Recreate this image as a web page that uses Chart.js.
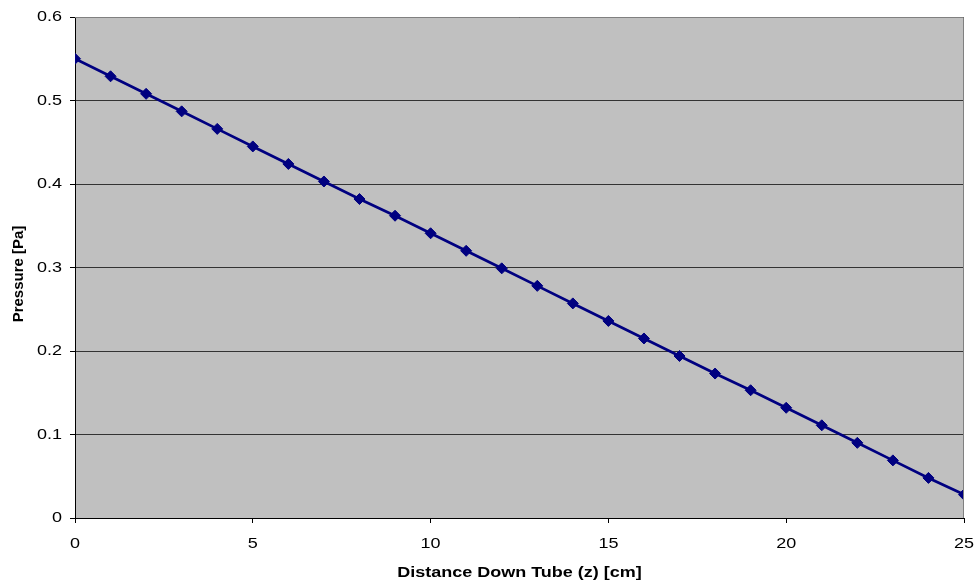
<!DOCTYPE html>
<html>
<head>
<meta charset="utf-8">
<script src="https://cdn.jsdelivr.net/npm/chart.js@4/dist/chart.umd.min.js"></script>
<style>
  html, body { margin: 0; padding: 0; background: #ffffff; }
  #wrap { width: 976px; height: 585px; }
</style>
</head>
<body>
<div id="wrap"><canvas id="c" width="976" height="585"></canvas></div>
<script>
// Distance down the tube (cm) and the pressure measured there (Pa)
const distances = [0,1,2,3,4,5,6,7,8,9,10,11,12,13,14,15,16,17,18,19,20,21,22,23,24,25];
const pressures = [0.550,0.529,0.508,0.487,0.466,0.445,0.424,0.403,0.382,0.362,0.341,0.320,0.299,0.278,0.257,0.236,0.215,0.194,0.173,0.153,0.132,0.111,0.090,0.069,0.048,0.028];
const xTickLabels = ['0', '5', '10', '15', '20', '25'];
const yTickLabels = ['0', '0.1', '0.2', '0.3', '0.4', '0.5', '0.6'];
const xTitle = 'Distance Down Tube (z) [cm]';
const yTitle = 'Pressure [Pa]';

const points = distances.map((z, i) => ({ x: z, y: pressures[i] }));

const FONT = '"Liberation Sans", Arial, sans-serif';
const WIDEN = 1.2;   // horizontal labels are set slightly wide

// Grey plot background with a thin grey frame on the top and right
const plotBackground = {
  id: 'plotBackground',
  beforeDraw(chart) {
    const { ctx, chartArea: a } = chart;
    ctx.save();
    ctx.fillStyle = '#c0c0c0';
    ctx.fillRect(a.left, a.top, a.right - a.left, a.bottom - a.top);
    ctx.restore();
  },
  afterDatasetsDraw(chart) {
    const { ctx, chartArea: a } = chart;
    ctx.save();
    ctx.strokeStyle = '#808080';
    ctx.lineWidth = 1;
    ctx.beginPath();
    ctx.moveTo(a.left, a.top + 0.5);
    ctx.lineTo(a.right - 0.5, a.top + 0.5);
    ctx.lineTo(a.right - 0.5, a.bottom);
    ctx.stroke();
    ctx.restore();
  }
};

// Draws a string horizontally widened around its anchor point
function wideText(ctx, text, x, y, align) {
  ctx.save();
  ctx.translate(x, y);
  ctx.scale(WIDEN, 1);
  ctx.textAlign = align;
  ctx.fillText(text, 0, 0);
  ctx.restore();
}

// Tick labels and axis titles
const axisText = {
  id: 'axisText',
  afterDraw(chart) {
    const { ctx, chartArea: a, scales } = chart;
    ctx.save();
    ctx.fillStyle = '#000000';
    ctx.textBaseline = 'middle';
    ctx.font = '15px ' + FONT;
    yTickLabels.forEach(t => {
      wideText(ctx, t, a.left - 13, scales.y.getPixelForValue(parseFloat(t)), 'right');
    });
    xTickLabels.forEach(t => {
      wideText(ctx, t, scales.x.getPixelForValue(parseFloat(t)), a.bottom + 26, 'center');
    });
    ctx.font = 'bold 15px ' + FONT;
    wideText(ctx, xTitle, (a.left + a.right) / 2, a.bottom + 55, 'center');
    ctx.translate(19, 274);
    ctx.rotate(-Math.PI / 2);
    ctx.textAlign = 'center';
    ctx.fillText(yTitle, 0, 0);
    ctx.restore();
  }
};

new Chart(document.getElementById('c'), {
  type: 'scatter',
  data: {
    datasets: [{
      data: points,
      showLine: true,
      borderColor: '#000080',
      backgroundColor: '#000080',
      borderWidth: 2.75,
      pointStyle: 'rectRot',
      pointRadius: 5.5,
      pointHoverRadius: 5.5,
      pointBorderWidth: 1,
      tension: 0
    }]
  },
  options: {
    responsive: false,
    animation: false,
    events: [],
    layout: { padding: { top: 17, right: 12, left: 0, bottom: 0 } },
    plugins: { legend: { display: false }, tooltip: { enabled: false } },
    scales: {
      x: {
        type: 'linear',
        min: 0, max: 25,
        ticks: { stepSize: 5, display: false },
        grid: { drawOnChartArea: false, color: '#000000', tickLength: 5, tickColor: '#000000' },
        border: { color: '#000000', width: 1 },
        afterFit(s) { s.height = 67; }
      },
      y: {
        min: 0, max: 0.6,
        ticks: { stepSize: 0.1, display: false },
        grid: { color: '#333333', lineWidth: 1, tickLength: 5, tickColor: '#000000' },
        border: { color: '#000000', width: 1 },
        afterFit(s) { s.width = 75; }
      }
    }
  },
  plugins: [plotBackground, axisText]
});
</script>
</body>
</html>
